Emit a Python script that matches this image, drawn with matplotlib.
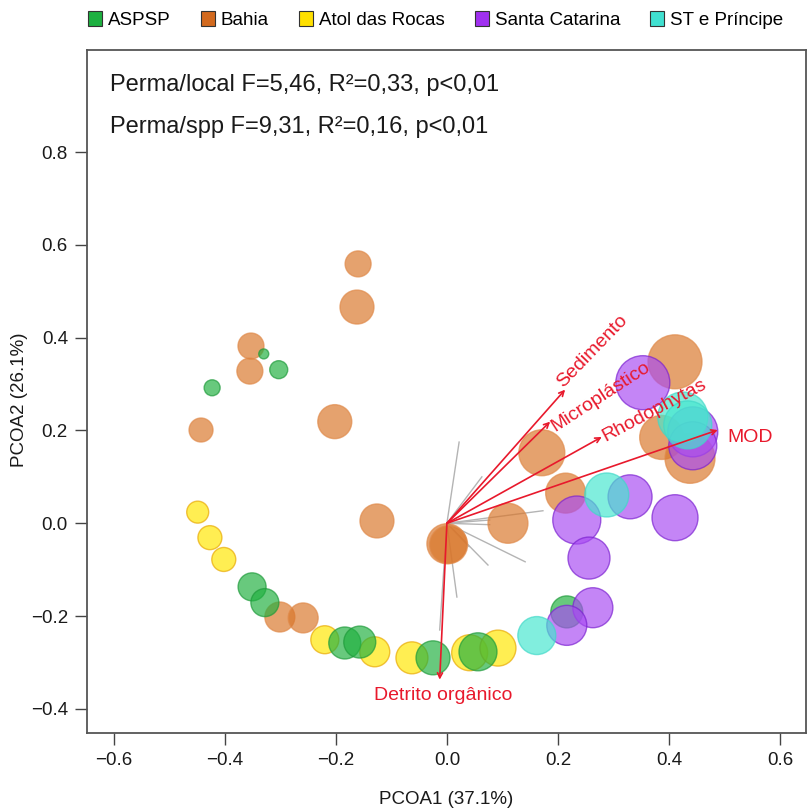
import matplotlib
matplotlib.use("Agg")
import matplotlib.pyplot as plt
from matplotlib.patches import Patch

plt.rcParams['font.family'] = ['Liberation Sans', 'DejaVu Sans']

# ---------------- data ----------------
groups = ["ASPSP", "Bahia", "Atol das Rocas", "Santa Catarina", "ST e Príncipe"]

aspsp_x = [-0.423, -0.330, -0.303, -0.351, -0.328, -0.184, -0.157, -0.025, 0.056, 0.216]
aspsp_y = [0.292, 0.365, 0.331, -0.137, -0.171, -0.258, -0.256, -0.290, -0.277, -0.191]
aspsp_size = [8, 5, 9, 14, 14, 16, 16, 17, 19, 16]

bahia_x = [-0.160, -0.162, -0.353, -0.355, -0.443, -0.202, -0.126, 0.000, 0.003,
           0.110, 0.171, 0.214, 0.411, 0.387, 0.438, -0.301, -0.259]
bahia_y = [0.559, 0.466, 0.382, 0.328, 0.201, 0.219, 0.005, -0.044, -0.046,
           0.000, 0.152, 0.065, 0.348, 0.185, 0.140, -0.202, -0.204]
bahia_size = [13, 17, 13, 13, 12, 17, 17, 20, 19, 20, 23, 20, 27, 22, 25, 15, 15]

atol_x = [-0.449, -0.427, -0.402, -0.220, -0.130, -0.063, 0.041, 0.092]
atol_y = [0.024, -0.031, -0.078, -0.251, -0.277, -0.290, -0.279, -0.269]
atol_size = [11, 12, 12, 14, 15, 16, 18, 18]

sc_x = [0.353, 0.443, 0.443, 0.330, 0.411, 0.234, 0.256, 0.263, 0.216]
sc_y = [0.303, 0.197, 0.167, 0.057, 0.012, 0.007, -0.075, -0.182, -0.220]
sc_size = [27, 25, 24, 22, 23, 24, 21, 20, 20]

st_x = [0.288, 0.162, 0.425, 0.434]
st_y = [0.061, -0.242, 0.229, 0.212]
st_size = [22, 19, 25, 24]

# environmental vectors (red arrows)
env_names = ["Sedimento", "Microplástico", "Rhodophytas", "MOD", "Detrito orgânico"]
env_x = [0.213, 0.186, 0.279, 0.488, -0.013]
env_y = [0.288, 0.219, 0.186, 0.201, -0.337]

# species vectors (grey lines)
spp_x = [0.022, 0.063, 0.173, 0.077, 0.077, 0.141, 0.074, 0.018, -0.013, 0.040]
spp_y = [0.175, 0.100, 0.027, 0.007, -0.003, -0.083, -0.090, -0.159, -0.230, -0.050]

stat_lines = ["Perma/local F=5,46, R²=0,33, p<0,01",
              "Perma/spp F=9,31, R²=0,16, p<0,01"]
xticks = [-0.6, -0.4, -0.2, 0.0, 0.2, 0.4, 0.6]
yticks = [-0.4, -0.2, 0.0, 0.2, 0.4, 0.6, 0.8]
xlabel = "PCOA1 (37.1%)"
ylabel = "PCOA2 (26.1%)"

# ---------------- style ----------------
face = {"ASPSP": "#20B040", "Bahia": "#D9762A", "Atol das Rocas": "#FFE600",
        "Santa Catarina": "#A84BF2", "ST e Príncipe": "#46E6CF"}
edge = {"ASPSP": "#1E9A3A", "Bahia": "#E08A4A", "Atol das Rocas": "#E8A800",
        "Santa Catarina": "#7A1FD0", "ST e Príncipe": "#40D8C8"}
legend_face = {"ASPSP": "#1DB040", "Bahia": "#D2691E", "Atol das Rocas": "#FFE000",
               "Santa Catarina": "#A030F0", "ST e Príncipe": "#40E0D0"}
red = "#E8192C"

fig = plt.figure(figsize=(8.07, 8.08), dpi=100)
ax = fig.add_axes([86.7 / 807, 1 - 733 / 808, (806 - 86.7) / 807, (733 - 50) / 808])

def area(sizes):
    return [(1.44 * s) ** 2 for s in sizes]

# grey species lines (below points)
for x, y in zip(spp_x, spp_y):
    ax.plot([0, x], [0, y], color="#B4B4B4", lw=1.0, zorder=1)

draw = [("Atol das Rocas", atol_x, atol_y, atol_size),
        ("Bahia", bahia_x, bahia_y, bahia_size),
        ("ASPSP", aspsp_x, aspsp_y, aspsp_size),
        ("Santa Catarina", sc_x, sc_y, sc_size),
        ("ST e Príncipe", st_x, st_y, st_size)]
for z, (g, xs, ys, ss) in enumerate(draw):
    ax.scatter(xs, ys, s=area(ss), facecolor=face[g], edgecolor=edge[g],
               linewidths=1.0, alpha=0.68, zorder=2 + z)

# red environmental arrows
for x, y in zip(env_x, env_y):
    ax.annotate("", xy=(x, y), xytext=(0, 0),
                arrowprops=dict(arrowstyle="->", color=red, lw=1.2,
                                shrinkA=0, shrinkB=0, mutation_scale=9),
                zorder=10)

lab_pos = [(0.209, 0.292, 46, "left"), (0.196, 0.197, 33, "left"),
           (0.285, 0.176, 28, "left"), (0.506, 0.176, 0, "left"),
           (-0.006, -0.381, 0, "center")]
for name, (x, y, rot, ha) in zip(env_names, lab_pos):
    ax.text(x, y, name, color=red, fontsize=14, rotation=rot,
            rotation_mode="anchor", ha=ha, va="baseline", zorder=11)

ax.text(0.0324, 0.940, stat_lines[0], transform=ax.transAxes, fontsize=17,
        va="baseline", ha="left", color="#1a1a1a")
ax.text(0.0324, 0.878, stat_lines[1], transform=ax.transAxes, fontsize=17,
        va="baseline", ha="left", color="#1a1a1a")

ax.set_xlim(-0.649, 0.647)
ax.set_ylim(-0.452, 1.020)
ax.set_xticks(xticks)
ax.set_yticks(yticks)
ax.set_xticklabels([f"{v:.1f}".replace("-", "\u2212") for v in xticks])
ax.set_yticklabels([f"{v:.1f}".replace("-", "\u2212") for v in yticks])
ax.tick_params(direction="out", length=8.5, width=1.0, pad=5, labelsize=13.5,
               color="#444444", labelcolor="#1a1a1a")
for sp in ax.spines.values():
    sp.set_color("#555555")
    sp.set_linewidth(1.3)

fig.text(446 / 807, 1 - 800 / 808, xlabel, ha="center", va="center", fontsize=13.5,
         color="#1a1a1a")
fig.text(20 / 807, 1 - 400 / 808, ylabel, ha="center", va="center", fontsize=13.5,
         rotation=90, color="#1a1a1a")

handles = [Patch(facecolor=legend_face[g], edgecolor="#333333", linewidth=0.8, label=g)
           for g in groups]
fig.legend(handles=handles, loc="center left", bbox_to_anchor=(88 / 807, 1 - 20 / 808),
           ncol=5, frameon=False, fontsize=13.5, handlelength=0.75, handleheight=0.85,
           handletextpad=0.32, columnspacing=1.6, borderpad=0, borderaxespad=0)

fig.savefig("out.png", dpi=100)
